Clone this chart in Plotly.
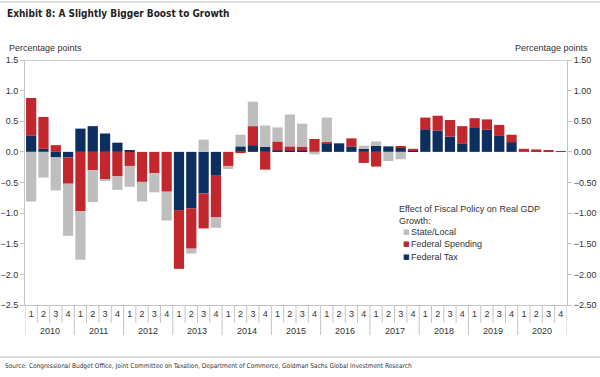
import plotly.graph_objects as go

years = [str(y) for y in range(2010, 2021)]
quarters = ["1", "2", "3", "4"]

federal_tax = [0.27, 0.05, -0.09, -0.09, 0.38, 0.42, 0.30, 0.15,
               0.02, 0.00, 0.00, 0.00, -0.95, -0.92, -0.68, -0.39,
               0.00, 0.09, 0.11, 0.08, 0.02, 0.02, 0.02, 0.00,
               0.14, 0.14, 0.09, 0.05, 0.10, 0.09, 0.07, 0.03,
               0.37, 0.35, 0.25, 0.14, 0.39, 0.36, 0.26, 0.16,
               0.00, 0.01, 0.00, 0.00]
federal_spending = [0.61, 0.52, 0.11, -0.43, -0.97, -0.30, -0.45, -0.40,
                    -0.23, -0.49, -0.35, -0.65, -0.96, -0.66, -0.57, -0.68,
                    -0.23, -0.02, 0.31, -0.29, 0.15, 0.07, 0.06, 0.21,
                    0.02, 0.00, 0.13, -0.18, -0.24, 0.00, 0.02, 0.02,
                    0.19, 0.24, 0.27, 0.28, 0.16, 0.17, 0.18, 0.12,
                    0.05, 0.03, 0.02, 0.01]
state_local = [-0.81, -0.42, -0.54, -0.85, -0.79, -0.52, -0.01, -0.22,
               -0.34, -0.32, -0.31, -0.47, 0.00, -0.08, 0.20, -0.17,
               -0.05, 0.19, 0.40, 0.35, 0.23, 0.52, 0.38, -0.04,
               0.40, 0.00, 0.00, 0.05, 0.07, -0.15, -0.12, 0.00,
               0.00, 0.00, 0.00, 0.00, 0.00, 0.00, 0.00, 0.00,
               0.00, 0.00, 0.00, 0.00]

quarter_labels = [q for y in years for q in quarters]
idx = list(range(len(quarter_labels)))

NAVY = "#0D2F5F"
RED = "#C1272D"
GREY = "#BEBEBE"
AXIS = "#C4C4C4"
TXT = "#333333"

FONT = "Liberation Sans, Arial, sans-serif"
NARROW = "Liberation Sans Narrow, Arial Narrow, DejaVu Sans Condensed, sans-serif"

series = [("Federal Tax", federal_tax, NAVY),
          ("Federal Spending", federal_spending, RED),
          ("State/Local", state_local, GREY)]

fig = go.Figure()
for name, vals, col in series:
    fig.add_trace(go.Bar(x=idx, y=vals, name=name, showlegend=False,
                         marker=dict(color=col, line=dict(width=0))))
# invisible trace anchoring the right axis
fig.add_trace(go.Scatter(x=idx, y=federal_tax, yaxis="y2", mode="markers",
                         marker=dict(opacity=0), showlegend=False,
                         hoverinfo="skip"))

yax = dict(range=[-2.5, 1.5], dtick=0.5, showgrid=False, zeroline=False,
           showline=True, linecolor=AXIS, linewidth=1,
           ticks="outside", ticklen=4, tickcolor=AXIS, automargin=False,
           tickfont=dict(family=FONT, size=9, color=TXT))

fig.update_layout(
    width=600, height=377,
    margin=dict(l=25, r=33, t=60, b=72, autoexpand=False),
    paper_bgcolor="white", plot_bgcolor="white",
    barmode="relative", bargap=0.17,
    font=dict(family=FONT, size=9, color=TXT),
    showlegend=False,
    xaxis=dict(range=[-0.5, len(idx) - 0.5], tickvals=idx,
               ticktext=quarter_labels, ticks="", tickangle=0,
               showgrid=False, zeroline=False, automargin=False,
               showline=True, linecolor=AXIS, linewidth=1,
               tickfont=dict(family=FONT, size=9, color=TXT)),
    yaxis=dict(yax, tickformat=".1f"),
    yaxis2=dict(yax, tickformat=".2f", overlaying="y", side="right"),
)

# quarter and year separators below the axis
for k in range(len(idx) + 1):
    is_year = (k % 4 == 0)
    fig.add_shape(type="line", xref="x", yref="paper",
                  x0=k - 0.5, x1=k - 0.5, y0=0,
                  y1=-0.1224 if is_year else -0.0735,
                  line=dict(color=AXIS, width=1))
for i, y in enumerate(years):
    fig.add_annotation(text=y, xref="x", yref="paper", x=4 * i + 1.5,
                       y=-0.106, showarrow=False, xanchor="center",
                       yanchor="middle",
                       font=dict(family=FONT, size=9, color=TXT))

# top border line at 1.5
fig.add_shape(type="line", xref="paper", yref="y", x0=0, x1=1, y0=1.5, y1=1.5,
              line=dict(color="#D0D0D0", width=2))
# header and footer rules
fig.add_shape(type="line", xref="paper", yref="paper", x0=-0.046, x1=1.061,
              y0=1.2367, y1=1.2367, line=dict(color="#BBBBBB", width=1))
fig.add_shape(type="line", xref="paper", yref="paper", x0=-0.046, x1=1.061,
              y0=-0.2122, y1=-0.2122, line=dict(color="#BBBBBB", width=1))

fig.add_annotation(text="<b>Exhibit 8: A Slightly Bigger Boost to Growth</b>",
                   xref="paper", yref="paper", x=-0.037, y=1.188,
                   xanchor="left", yanchor="middle", showarrow=False,
                   font=dict(family=NARROW, size=10, color="#222222"))
fig.add_annotation(text="Percentage points", xref="paper", yref="paper",
                   x=-0.033, y=1.049, xanchor="left", yanchor="middle",
                   showarrow=False, font=dict(family=FONT, size=9, color=TXT))
fig.add_annotation(text="Percentage points", xref="paper", yref="paper",
                   x=1.0424, y=1.049, xanchor="right", yanchor="middle",
                   showarrow=False, font=dict(family=FONT, size=9, color=TXT))
fig.add_annotation(text="Source: Congressional Budget Office, Joint Committee on Taxation, Department of Commerce, Goldman Sachs Global Investment Research",
                   xref="paper", yref="paper", x=-0.0406, y=-0.249,
                   xanchor="left", yanchor="middle", showarrow=False,
                   font=dict(family=NARROW, size=6.5, color=TXT))

# legend (drawn as text so the markers can be small squares)
fig.add_annotation(text="Effect of Fiscal Policy on Real GDP<br>Growth:",
                   xref="paper", yref="paper", x=0.686, y=0.42,
                   xanchor="left", yanchor="top", align="left",
                   showarrow=False, font=dict(family=FONT, size=9, color=TXT))
leg_y = [0.299, 0.251, 0.197]
for (name, vals, col), ly in zip(reversed(series), leg_y):
    fig.add_annotation(text="■", xref="paper", yref="paper", x=0.703, y=ly,
                       xanchor="center", yanchor="middle", showarrow=False,
                       font=dict(family="DejaVu Sans", size=7, color=col))
    fig.add_annotation(text=name, xref="paper", yref="paper", x=0.7085, y=ly,
                       xanchor="left", yanchor="middle", showarrow=False,
                       font=dict(family=FONT, size=9, color=TXT))

fig.write_html("out.html",
               config={"displayModeBar": False},
               post_script="document.body.style.margin='0';document.body.style.overflow='hidden';")
